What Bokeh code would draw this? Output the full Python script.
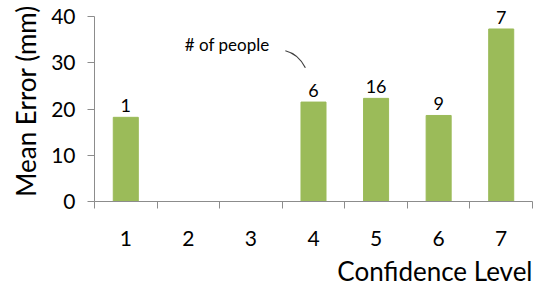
from bokeh.plotting import figure
from bokeh.models import Range1d, FixedTicker, ColumnDataSource, Label, Title
from bokeh.core.properties import value
from bokeh.embed import file_html
from bokeh.resources import INLINE

levels = [1, 2, 3, 4, 5, 6, 7]
mean_error = [18.2, 0, 0, 21.5, 22.3, 18.6, 37.3]
people = ["1", "", "", "6", "16", "9", "7"]
y_ticks = [0, 10, 20, 30, 40]

FONT = "Lato"
GREEN = "#9BBB59"
GRAY = "#8C8C8C"

p = figure(width=535, height=281, output_backend="svg", toolbar_location=None,
           x_range=Range1d(0.5, 7.5), y_range=Range1d(0, 40 * 201 / 185),
           min_border_left=94, min_border_right=3, min_border_top=0, min_border_bottom=80,
           frame_width=438, frame_height=201)
p.outline_line_color = None
p.grid.visible = False

src = ColumnDataSource(dict(x=levels, top=mean_error, lab=people))
p.vbar(x="x", top="top", width=0.4, source=src, color=GREEN)
p.text(x="x", y="top", text="lab", source=src, text_align="center", text_baseline="bottom",
       y_offset=-5, text_font=value(FONT), text_font_size="18px", text_color="#000000")

# axes
p.yaxis.ticker = FixedTicker(ticks=y_ticks)
p.yaxis.bounds = (0, 40)
p.xaxis.ticker = FixedTicker(ticks=levels, minor_ticks=[0.5 + i for i in range(8)])
for ax in (p.xaxis[0], p.yaxis[0]):
    ax.axis_line_color = GRAY
    ax.major_tick_line_color = GRAY
    ax.minor_tick_line_color = GRAY
    ax.major_label_text_font = FONT
    ax.major_label_text_font_size = "21px"
    ax.major_label_text_color = "#000000"
    ax.major_tick_in = 0
    ax.minor_tick_in = 0
p.yaxis.major_tick_out = 7
p.yaxis.minor_tick_out = 0
p.yaxis.major_label_standoff = 12
p.xaxis.major_tick_line_color = None
p.xaxis.major_tick_out = 7
p.xaxis.minor_tick_out = 7
p.xaxis.major_label_standoff = 22

# axis titles
p.add_layout(Title(text="Mean Error (mm)", align="center", text_font=FONT,
                   text_font_size="26px", text_font_style="normal", text_color="#000000",
                   standoff=14), "left")
p.add_layout(Title(text="Confidence Level", align="right", text_font=FONT,
                   text_font_size="26px", text_font_style="normal", text_color="#000000",
                   standoff=8), "below")

# annotation
p.add_layout(Label(x=2.62, y=33.9, text="# of people", text_align="center",
                   text_baseline="middle", text_font=FONT, text_font_size="17px",
                   text_color="#000000"))
p.quadratic(x0=[3.55], y0=[32.6], x1=[3.87], y1=[28.9], cx=[3.76], cy=[31.9],
            line_color="#404040", line_width=1.2)

open("out.html", "w").write(file_html(p, INLINE))
